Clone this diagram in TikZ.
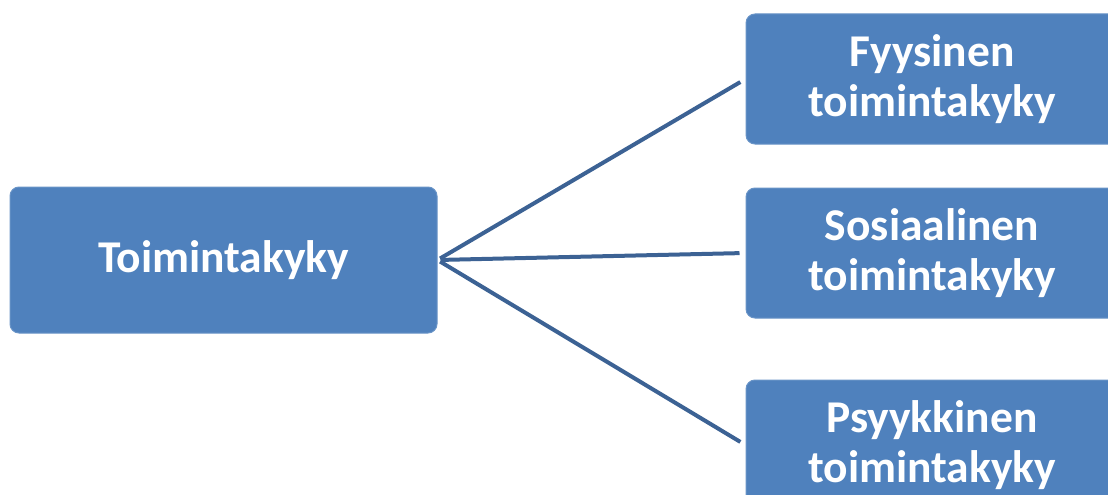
\documentclass[tikz,border=0pt]{standalone}
\usepackage{fontspec}
\setmainfont{Carlito}
\definecolor{boxblue}{HTML}{4F81BD}
\definecolor{lineblue}{HTML}{3C6294}

\begin{document}
\begin{tikzpicture}[x=1pt,y=-1pt,
    laatikko/.style={fill=boxblue, draw=boxblue!85!white, line width=1pt,
      rounded corners=9pt, text=white, align=center, inner sep=0pt,
      font=\fontsize{45.5}{50}\selectfont\bfseries},
    viiva/.style={draw=lineblue, line width=4pt}]
  %%%%% START %%%%%
  \useasboundingbox (0,0) rectangle (1108,495);
  \clip (0,0) rectangle (1108,495);

  \node[laatikko, minimum width=427pt, minimum height=146pt] (toim) at (223.5,260) {Toimintakyky};

  \node[laatikko, minimum width=372pt, minimum height=130pt] (fyys) at (932,79) {Fyysinen\\toimintakyky};
  \node[laatikko, minimum width=372pt, minimum height=130pt] (sos) at (932,253) {Sosiaalinen\\toimintakyky};
  \node[laatikko, minimum width=372pt, minimum height=130pt] (psyk) at (932,445) {Psyykkinen\\toimintakyky};

  \draw[viiva, shorten <=3pt, shorten >=6pt] (toim.east) -- (fyys.west);
  \draw[viiva, shorten <=3pt, shorten >=6pt] (toim.east) -- (sos.west);
  \draw[viiva, shorten <=3pt, shorten >=6pt] (toim.east) -- (psyk.west);
  %%%%% END %%%%%
\end{tikzpicture}
\end{document}
